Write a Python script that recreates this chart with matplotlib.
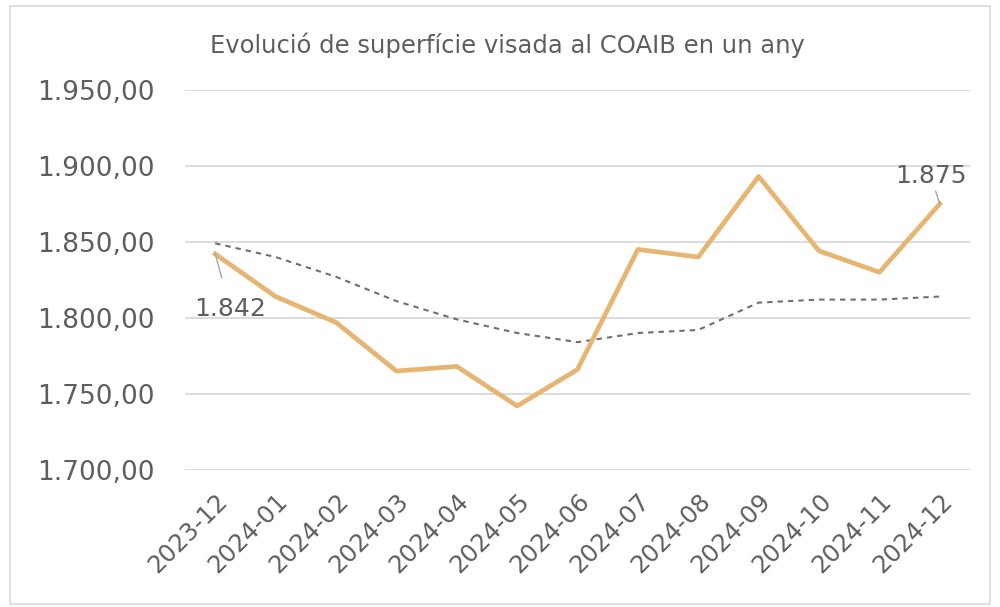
import matplotlib
matplotlib.use("Agg")
import matplotlib.pyplot as plt
from matplotlib.ticker import FuncFormatter
from matplotlib.patches import Rectangle

months = ["2023-12", "2024-01", "2024-02", "2024-03", "2024-04", "2024-05", "2024-06",
          "2024-07", "2024-08", "2024-09", "2024-10", "2024-11", "2024-12"]
surface = [1842, 1814, 1797, 1765, 1768, 1742, 1766, 1845, 1840, 1893, 1844, 1830, 1875]
trend = [1849, 1840, 1827, 1811, 1799, 1790, 1784, 1790, 1792, 1810, 1812, 1812, 1814]

title = "Evolució de superfície visada al COAIB en un any"
text_grey = "#5E5E5E"
line_col = "#E6B571"

plt.rcParams['font.family'] = ['DejaVu Sans']

fig = plt.figure(figsize=(10, 6.07), dpi=100)
ax = fig.add_axes([0.185, 0.226, 0.785, 0.626])

x = list(range(len(months)))
ax.plot(x, surface, color=line_col, lw=3.4, zorder=3)
ax.plot(x, trend, color="#707070", lw=1.5, ls=(0, (2.6, 2.4)), zorder=2)

ax.set_xlim(-0.5, len(months) - 0.5)
ax.set_ylim(1700, 1950)
ax.set_yticks([1700, 1750, 1800, 1850, 1900, 1950])
ax.yaxis.set_major_formatter(FuncFormatter(
    lambda v, p: f"{v:,.2f}".replace(",", "X").replace(".", ",").replace("X", ".")))
ax.set_xticks(x)
ax.set_xticklabels(months, rotation=45, ha="right", rotation_mode="anchor")

ax.grid(axis="y", color="#D9D9D9", lw=1.3)
ax.set_axisbelow(True)
for s in ax.spines.values():
    s.set_visible(False)
ax.tick_params(axis="y", length=0, pad=22, labelsize=19, labelcolor=text_grey)
ax.tick_params(axis="x", length=0, pad=14, labelsize=17.5, labelcolor=text_grey)

# etiquetes del primer i darrer punt
ax.annotate(f"{surface[0]:,}".replace(",", "."), xy=(0, surface[0]), xytext=(0.25, 1806),
            ha="center", va="center", fontsize=18, color=text_grey,
            arrowprops=dict(arrowstyle="-", color="#A6A6A6", lw=1, shrinkA=12, shrinkB=0))
ax.annotate(f"{surface[-1]:,}".replace(",", "."), xy=(12, surface[-1]), xytext=(11.85, 1893),
            ha="center", va="center", fontsize=18, color=text_grey,
            arrowprops=dict(arrowstyle="-", color="#A6A6A6", lw=1, shrinkA=12, shrinkB=0))

fig.text(0.507, 0.925, title, ha="center", va="center", fontsize=17.5, color=text_grey)

fig.patches.append(Rectangle((0.01, 0.005), 0.98, 0.985, transform=fig.transFigure,
                             fill=False, edgecolor="#D9D9D9", lw=1.2))

fig.savefig("out.png", dpi=100)
